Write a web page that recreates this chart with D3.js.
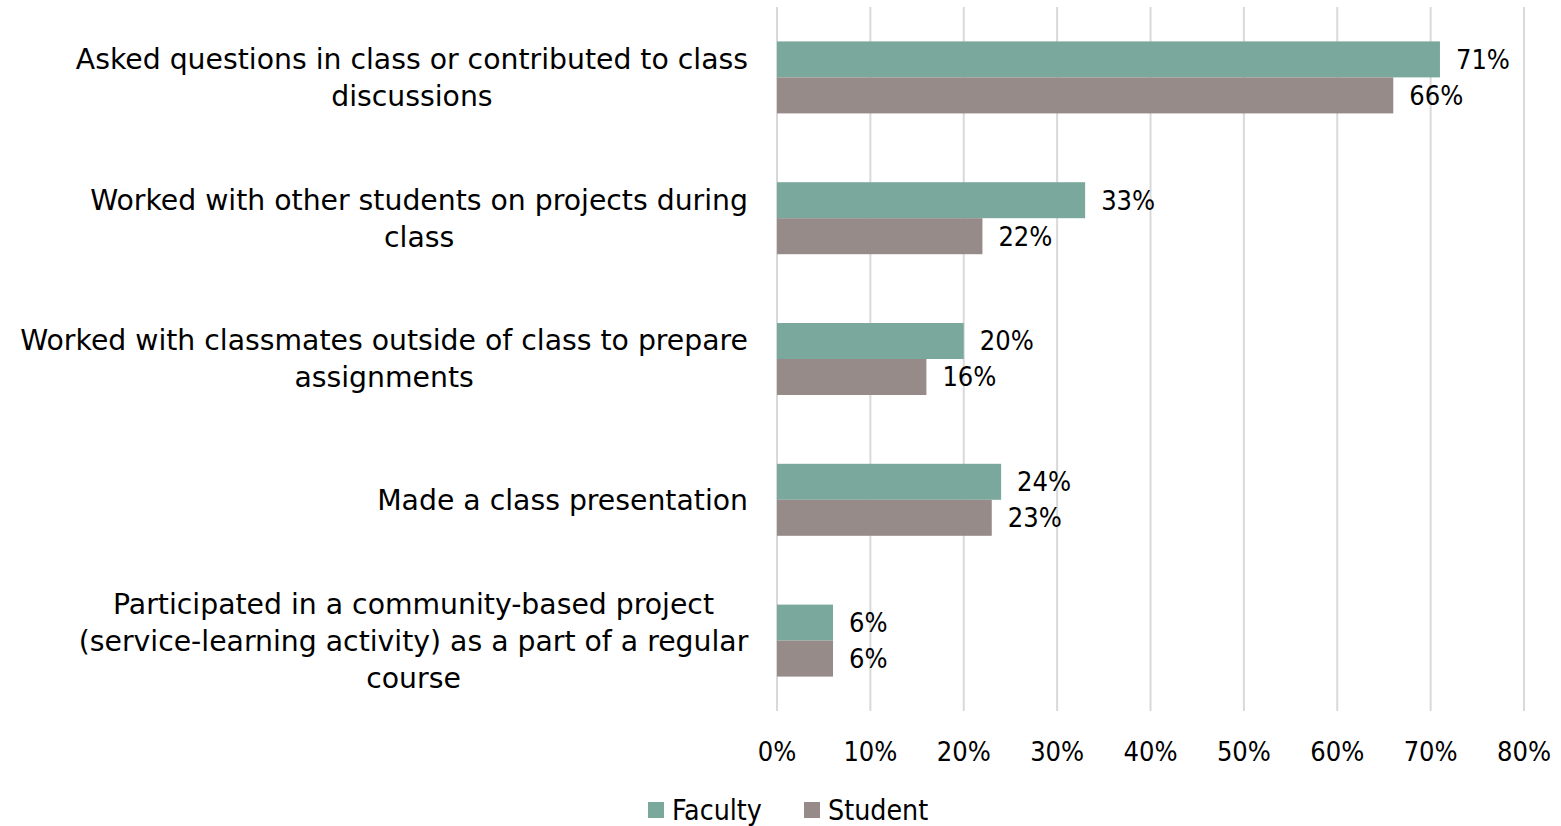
<!DOCTYPE html>
<html>
<head>
<meta charset="utf-8">
<title>faculty-student-bars</title>
<style>
body { margin: 0; background: #fff; font-family: "DejaVu Sans", sans-serif; }
.grid line { stroke: #d9d9d9; stroke-width: 2; }
.barFaculty { fill: #7ba89c; }
.barStudent { fill: #968b89; }
.num { font-family: "DejaVu Sans Condensed", "DejaVu Sans", sans-serif; }
text { fill: #000; }
</style>
</head>
<body>
<script src="https://cdn.jsdelivr.net/npm/d3@7"></script>
<script>
// categories, each one split into its wrapped lines
var categories = [
  ["Asked questions in class or contributed to class", "discussions"],
  ["Worked with other students on projects during", "class"],
  ["Worked with classmates outside of class to prepare", "assignments"],
  ["Made a class presentation"],
  ["Participated in a community-based project", "(service-learning activity) as a part of a regular", "course"]
];
var faculty = [71, 33, 20, 24, 6];
var student = [66, 22, 16, 23, 6];
var seriesNames = ["Faculty", "Student"];
var xTicks = [0, 10, 20, 30, 40, 50, 60, 70, 80];

var totalWidth = 1561, totalHeight = 826;
var margin = { top: 7, right: 37, bottom: 115, left: 777 };
var width = totalWidth - margin.left - margin.right,
    height = totalHeight - margin.top - margin.bottom;
var labelSize = 28.3, numSize = 27, lineH = 37;

var svg = d3.select("body").append("svg")
    .attr("width", totalWidth)
    .attr("height", totalHeight);
var g = svg.append("g")
    .attr("transform", "translate(" + margin.left + "," + margin.top + ")");

var keys = categories.map(function (c, i) { return "c" + i; });
var y = d3.scaleBand().domain(keys).range([0, height]).paddingInner(0).paddingOuter(0);
var x = d3.scaleLinear().domain([0, 80]).range([0, width]);
var barH = 36;

// vertical gridlines
g.append("g").attr("class", "grid")
  .selectAll("line").data(xTicks).enter().append("line")
  .attr("x1", function (d) { return x(d); }).attr("x2", function (d) { return x(d); })
  .attr("y1", 0).attr("y2", height);

// x tick labels
g.selectAll(".xtick").data(xTicks).enter().append("text")
  .attr("class", "num")
  .attr("x", function (d) { return x(d); })
  .attr("y", height + 41)
  .attr("dy", "0.35em")
  .attr("text-anchor", "middle")
  .style("font-size", numSize + "px")
  .text(function (d) { return d + "%"; });

function center(i) { return y(keys[i]) + y.bandwidth() / 2; }

g.selectAll(".barFaculty").data(faculty).enter().append("rect")
  .attr("class", "barFaculty")
  .attr("x", 0)
  .attr("y", function (d, i) { return center(i) - barH; })
  .attr("width", function (d) { return x(d); })
  .attr("height", barH);

g.selectAll(".barStudent").data(student).enter().append("rect")
  .attr("class", "barStudent")
  .attr("x", 0)
  .attr("y", function (d, i) { return center(i); })
  .attr("width", function (d) { return x(d); })
  .attr("height", barH);

// value labels
function valueLabels(data, offset) {
  g.selectAll(null).data(data).enter().append("text")
    .attr("class", "num")
    .attr("x", function (d) { return x(d) + 16; })
    .attr("y", function (d, i) { return center(i) + offset; })
    .attr("dy", "0.35em")
    .style("font-size", numSize + "px")
    .text(function (d) { return d + "%"; });
}
valueLabels(faculty, -barH / 2);
valueLabels(student, barH / 2);

// category labels: block right-aligned, lines centred within block
categories.forEach(function (lines, i) {
  var t = svg.append("text").style("font-size", labelSize + "px").attr("text-anchor", "middle");
  var spans = lines.map(function (l) { return t.append("tspan").text(l); });
  var maxW = d3.max(spans, function (s) { return s.node().getComputedTextLength(); });
  var cx = margin.left - 29 - maxW / 2;
  var cy = margin.top + center(i);
  spans.forEach(function (s, j) {
    s.attr("x", cx).attr("y", cy + (j - (lines.length - 1) / 2) * lineH).attr("dy", "0.35em");
  });
});

// legend
var colors = ["#7ba89c", "#968b89"];
var legend = svg.append("g");
var swatchX = [648, 804];
seriesNames.forEach(function (name, i) {
  legend.append("rect").attr("x", swatchX[i]).attr("y", 802).attr("width", 16).attr("height", 16).attr("fill", colors[i]);
  legend.append("text").attr("x", swatchX[i] + 24).attr("y", 810).attr("dy", "0.35em")
    .attr("class", "num")
    .style("font-size", labelSize + "px").text(name);
});
</script>
</body>
</html>
